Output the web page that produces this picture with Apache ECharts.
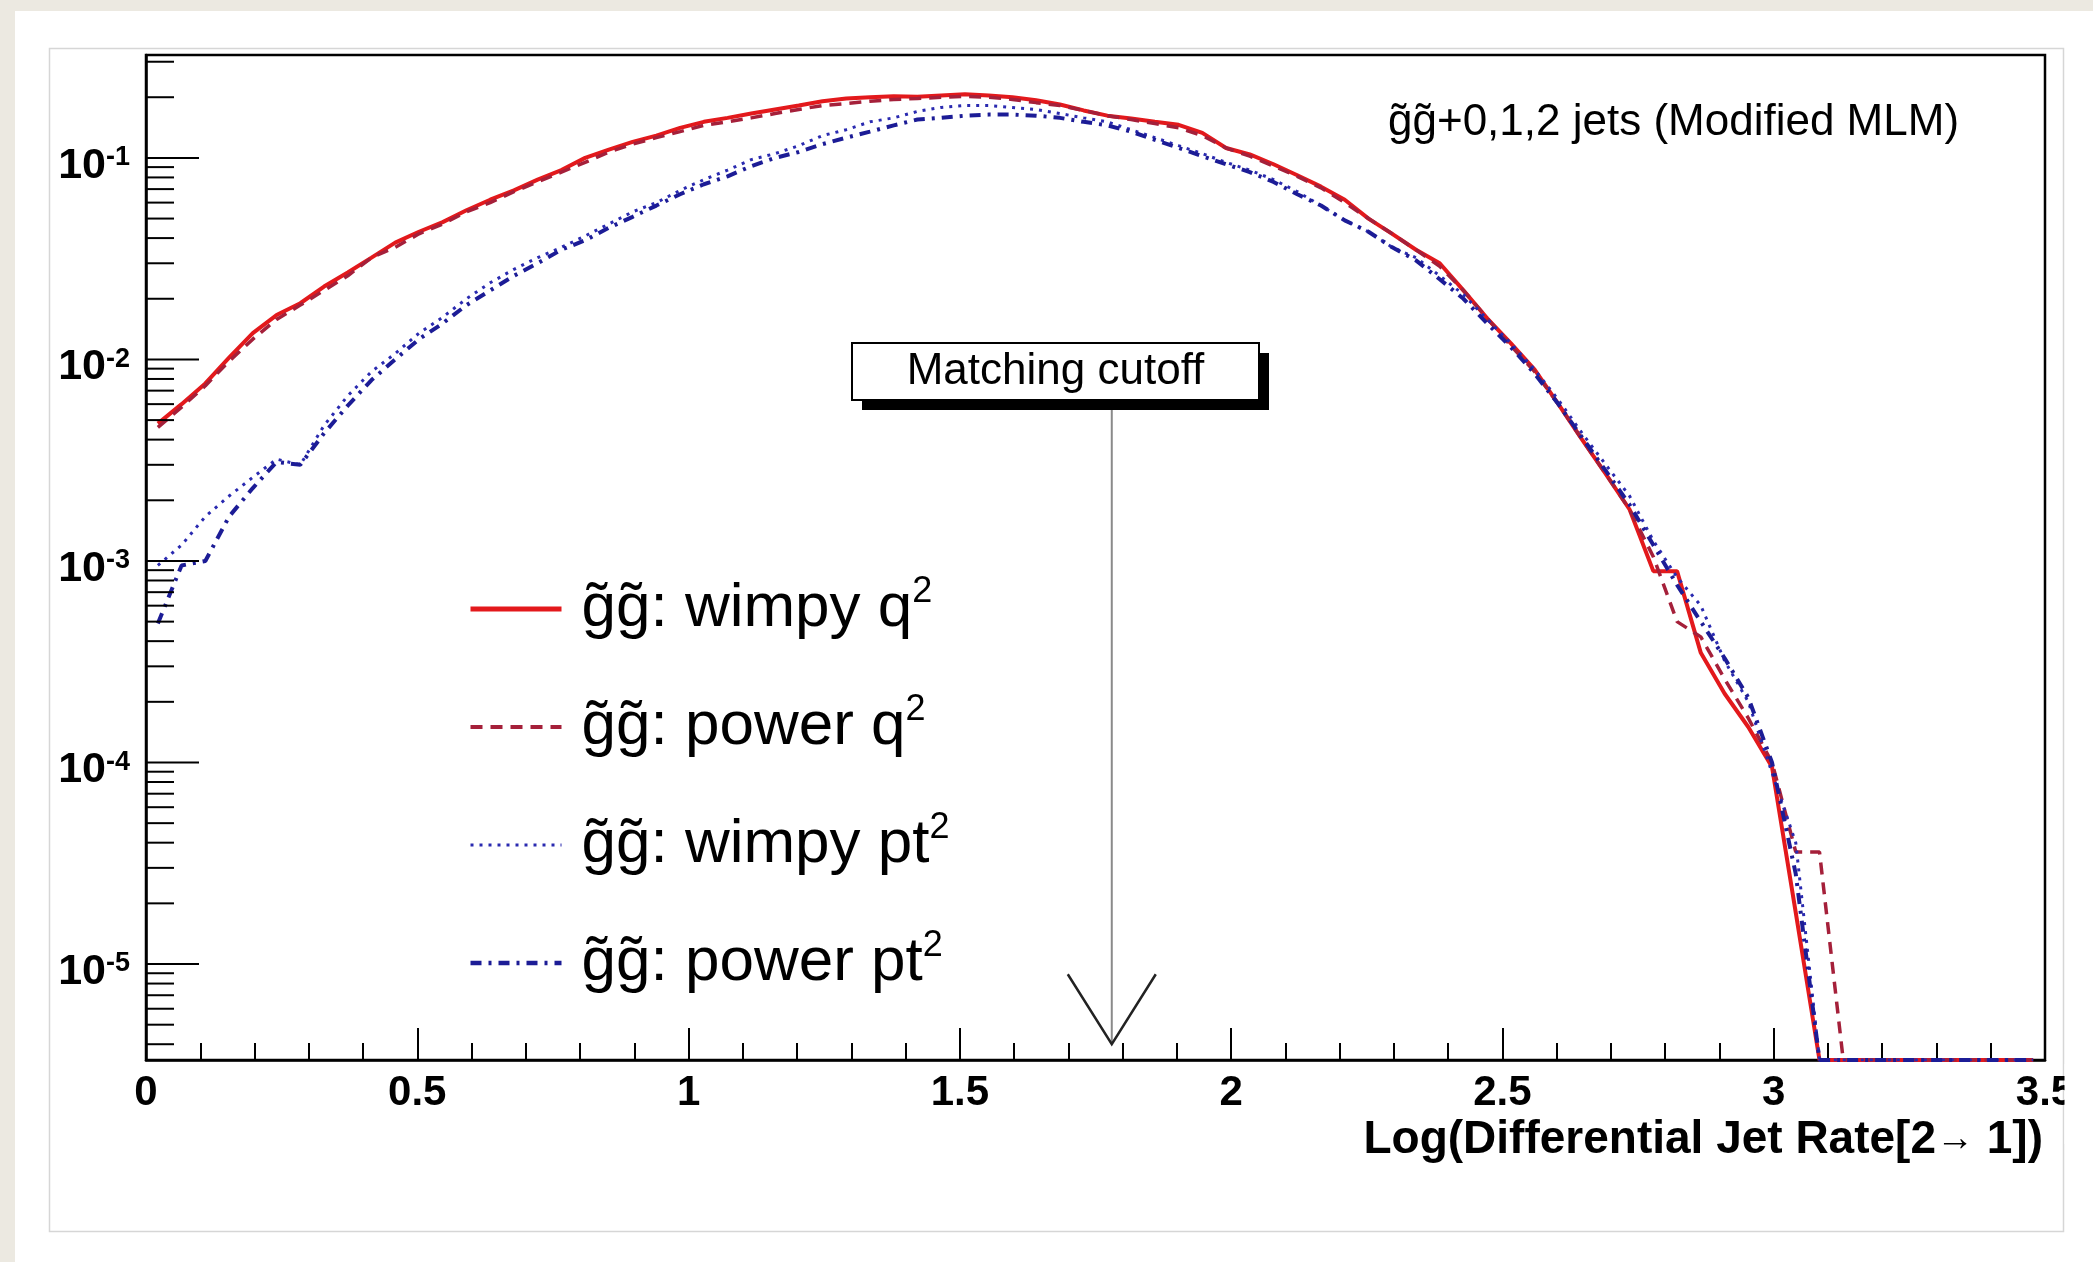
<!DOCTYPE html>
<html>
<head>
<meta charset="utf-8">
<script src="https://cdn.jsdelivr.net/npm/echarts@6/dist/echarts.min.js"></script>
<style>
  html, body { margin: 0; padding: 0; background: #ffffff; }
  #chart { width: 2093px; height: 1262px; }
</style>
</head>
<body>
<div id="chart"></div>
<script>
// histogram: 80 bins over [0, 3.5]
const binLow = 0
const binWidth = 0.04375
const nBins = 80

const yMin = 3.34e-6
const yMax = 0.324

// bin contents (0 = empty bin, drawn on the frame bottom)
const wimpyQ2 = [
  4.8e-3, 6.0e-3, 7.6e-3, 1.02e-2, 1.35e-2, 1.66e-2, 1.9e-2, 2.3e-2, 2.7e-2, 3.2e-2,
  3.8e-2, 4.3e-2, 4.8e-2, 5.5e-2, 6.2e-2, 6.9e-2, 7.8e-2, 8.7e-2, 0.100, 0.110,
  0.120, 0.129, 0.141, 0.151, 0.158, 0.166, 0.174, 0.182, 0.191, 0.197,
  0.200, 0.202, 0.201, 0.204, 0.207, 0.204, 0.200, 0.193, 0.184, 0.172,
  0.162, 0.157, 0.151, 0.146, 0.133, 0.112, 0.104, 9.3e-2, 8.2e-2, 7.2e-2,
  6.2e-2, 5.0e-2, 4.2e-2, 3.5e-2, 3.0e-2, 2.2e-2, 1.6e-2, 1.2e-2, 8.9e-3, 6.0e-3,
  4.0e-3, 2.7e-3, 1.8e-3, 8.9e-4, 8.9e-4, 3.5e-4, 2.2e-4, 1.5e-4, 9.5e-5, 1.8e-5,
  0, 0, 0, 0, 0, 0, 0, 0, 0, 0,
]

const powerQ2 = [
  4.6e-3, 5.8e-3, 7.4e-3, 9.8e-3, 1.26e-2, 1.58e-2, 1.86e-2, 2.2e-2, 2.6e-2, 3.2e-2,
  3.6e-2, 4.2e-2, 4.7e-2, 5.4e-2, 6.0e-2, 6.8e-2, 7.6e-2, 8.5e-2, 9.5e-2, 0.107,
  0.117, 0.126, 0.135, 0.145, 0.151, 0.158, 0.166, 0.174, 0.182, 0.186,
  0.191, 0.195, 0.197, 0.200, 0.202, 0.200, 0.195, 0.188, 0.182, 0.172,
  0.162, 0.155, 0.148, 0.141, 0.129, 0.112, 0.102, 9.1e-2, 8.1e-2, 7.1e-2,
  6.0e-2, 5.0e-2, 4.2e-2, 3.5e-2, 2.9e-2, 2.2e-2, 1.6e-2, 1.17e-2, 8.7e-3, 6.0e-3,
  4.0e-3, 2.7e-3, 1.8e-3, 1.05e-3, 5.0e-4, 4.2e-4, 2.6e-4, 1.66e-4, 1.0e-4, 3.6e-5,
  3.6e-5, 0, 0, 0, 0, 0, 0, 0, 0, 0,
]

const wimpyPt2 = [
  9.5e-4, 1.2e-3, 1.66e-3, 2.1e-3, 2.6e-3, 3.2e-3, 3.0e-3, 4.7e-3, 6.6e-3, 8.7e-3,
  1.07e-2, 1.35e-2, 1.62e-2, 2.0e-2, 2.4e-2, 2.8e-2, 3.2e-2, 3.6e-2, 4.1e-2, 4.7e-2,
  5.4e-2, 6.0e-2, 6.9e-2, 7.8e-2, 8.7e-2, 9.8e-2, 0.105, 0.115, 0.129, 0.138,
  0.151, 0.158, 0.170, 0.178, 0.182, 0.182, 0.178, 0.174, 0.166, 0.158,
  0.151, 0.138, 0.126, 0.115, 0.105, 9.5e-2, 8.7e-2, 7.8e-2, 6.8e-2, 5.8e-2,
  4.9e-2, 4.3e-2, 3.6e-2, 3.2e-2, 2.6e-2, 2.1e-2, 1.58e-2, 1.2e-2, 8.9e-3, 6.3e-3,
  4.3e-3, 3.0e-3, 2.1e-3, 1.26e-3, 8.3e-4, 6.0e-4, 3.2e-4, 2.0e-4, 8.9e-5, 4.0e-5,
  0, 0, 0, 0, 0, 0, 0, 0, 0, 0,
]

const powerPt2 = [
  4.9e-4, 9.5e-4, 1.0e-3, 1.66e-3, 2.3e-3, 3.1e-3, 3.0e-3, 4.3e-3, 5.9e-3, 7.9e-3,
  1.0e-2, 1.26e-2, 1.51e-2, 1.86e-2, 2.2e-2, 2.6e-2, 3.0e-2, 3.5e-2, 3.9e-2, 4.5e-2,
  5.1e-2, 5.8e-2, 6.6e-2, 7.4e-2, 8.1e-2, 9.1e-2, 0.100, 0.107, 0.117, 0.126,
  0.135, 0.145, 0.155, 0.158, 0.162, 0.164, 0.164, 0.162, 0.158, 0.151,
  0.145, 0.135, 0.123, 0.112, 0.102, 9.3e-2, 8.5e-2, 7.6e-2, 6.6e-2, 5.8e-2,
  4.9e-2, 4.3e-2, 3.6e-2, 3.1e-2, 2.5e-2, 2.0e-2, 1.51e-2, 1.15e-2, 8.5e-3, 6.0e-3,
  4.1e-3, 2.8e-3, 1.9e-3, 1.2e-3, 7.6e-4, 5.0e-4, 3.3e-4, 2.1e-4, 1.0e-4, 2.8e-5,
  0, 0, 0, 0, 0, 0, 0, 0, 0, 0,
]

const seriesNames = ['wimpy q2', 'power q2', 'wimpy pt2', 'power pt2']
const legendLabels = ['g\u0303g\u0303: wimpy q', 'g\u0303g\u0303: power q', 'g\u0303g\u0303: wimpy pt', 'g\u0303g\u0303: power pt']

// matching cutoff arrow (x, line top, arrow tip)
const cutoffX = 1.78
const cutoffTop = 5.7e-3
const cutoffTip = 4.0e-6

const FONT = '"Liberation Sans", Arial, Helvetica, sans-serif'

const binCenters = Array.from({ length: nBins }, (_, i) => binLow + (i + 0.5) * binWidth)
const toPoints = (values) => values.map((v, i) => [binCenters[i], v > 0 ? v : yMin])

// y ticks: long at decades, short at 2..9
const yTickMarks = []
for (let k = -6; k <= 0; k++) {
  for (let m = 1; m <= 9; m++) {
    const v = m * Math.pow(10, k)
    if (v < yMin || v > yMax) continue
    yTickMarks.push([0, v, m === 1 ? 53 : 28])
  }
}

const styles = [
  { color: '#e3191c', width: 4, type: 'solid', legendWidth: 5 },
  { color: '#a5203a', width: 3.5, type: [12, 8], legendWidth: 4 },
  { color: '#2a2ab0', width: 3, type: [3, 6], legendWidth: 3 },
  { color: '#1c1c96', width: 4, type: [11, 7, 3, 7], legendWidth: 4.5 },
]

const chart = echarts.init(document.getElementById('chart'), null, { renderer: 'canvas' })

const lineSeries = (i, values) => ({
  name: seriesNames[i],
  type: 'line',
  data: toPoints(values),
  symbol: 'none',
  smooth: false,
  lineStyle: { color: styles[i].color, width: styles[i].width, type: styles[i].type },
  itemStyle: { color: styles[i].color },
  z: 3,
})

chart.setOption({
  animation: false,
  backgroundColor: '#ffffff',
  grid: {
    left: 146,
    right: 48,
    top: 55,
    bottom: 202,
    show: true,
    borderColor: '#000',
    borderWidth: 2.5,
    backgroundColor: 'transparent',
  },
  legend: {
    orient: 'vertical',
    left: 463,
    top: 569,
    itemWidth: 91,
    itemHeight: 14,
    itemGap: 48,
    itemStyle: { opacity: 0 },
    data: seriesNames.map((name, i) => ({
      name,
      itemStyle: { opacity: 0 },
      lineStyle: { width: styles[i].legendWidth },
    })),
    formatter(name) {
      return legendLabels[seriesNames.indexOf(name)] + '{sup|2}'
    },
    textStyle: {
      fontFamily: FONT,
      fontSize: 62,
      color: '#000',
      lineHeight: 70,
      padding: [0, 0, 0, 15],
      rich: {
        sup: { fontFamily: FONT, fontSize: 36, lineHeight: 36, verticalAlign: 'top', color: '#000' },
      },
    },
  },
  xAxis: {
    type: 'value',
    min: 0,
    max: 3.5,
    interval: 0.5,
    axisLine: { lineStyle: { color: '#000', width: 2.5 } },
    axisTick: { inside: true, length: 32, lineStyle: { color: '#000', width: 2 } },
    minorTick: { show: true, splitNumber: 5, length: 17, lineStyle: { color: '#000', width: 2 } },
    splitLine: { show: false },
    axisLabel: {
      color: '#000',
      fontFamily: FONT,
      fontWeight: 'bold',
      fontSize: 42,
      margin: 12,
    },
  },
  yAxis: {
    type: 'log',
    logBase: 10,
    min: yMin,
    max: yMax,
    axisLine: { lineStyle: { color: '#000', width: 2.5 } },
    axisTick: { show: false },
    splitLine: { show: false },
    axisLabel: {
      margin: 16,
      padding: [16, 0, 0, 0],
      formatter(value) {
        const e = Math.log10(value)
        const r = Math.round(e)
        if (Math.abs(e - r) > 1e-6) return ''
        return '{b|10}{s|' + r + '}'
      },
      rich: {
        b: { fontFamily: FONT, fontWeight: 'bold', fontSize: 43, lineHeight: 43, color: '#000' },
        s: { fontFamily: FONT, fontWeight: 'bold', fontSize: 27, lineHeight: 27, verticalAlign: 'top', color: '#000' },
      },
    },
  },
  graphic: [
    { type: 'rect', z: -10, shape: { x: 0, y: 0, width: 2093, height: 11 }, style: { fill: '#ece9e1' } },
    { type: 'rect', z: -10, shape: { x: 0, y: 0, width: 15, height: 1262 }, style: { fill: '#ece9e1' } },
    { type: 'rect', z: -9, shape: { x: 49.5, y: 48.5, width: 2014, height: 1183 }, style: { fill: 'none', stroke: '#d6d6d6', lineWidth: 1.5 } },
    // canvas edge clips the last x label
    { type: 'rect', z: 100, shape: { x: 2064.5, y: 1064, width: 29, height: 80 }, style: { fill: '#ffffff' } },
    {
      type: 'text',
      z: 50,
      x: 1388,
      y: 123,
      style: {
        text: 'g\u0303g\u0303+0,1,2 jets (Modified MLM)',
        font: '44px ' + FONT,
        fill: '#000',
        verticalAlign: 'middle',
      },
    },
    { type: 'rect', z: 50, shape: { x: 862, y: 353, width: 407, height: 57 }, style: { fill: '#000' } },
    { type: 'rect', z: 51, shape: { x: 852, y: 343, width: 407, height: 57 }, style: { fill: '#fff', stroke: '#000', lineWidth: 2 } },
    {
      type: 'text',
      z: 52,
      x: 1055.5,
      y: 372,
      style: {
        text: 'Matching cutoff',
        font: '44px ' + FONT,
        fill: '#000',
        align: 'center',
        verticalAlign: 'middle',
      },
    },
    {
      type: 'text',
      z: 50,
      x: 2043,
      y: 1140,
      style: {
        text: '{a|Log(Differential Jet Rate[2}{r|\u2192}{a| 1])}',
        align: 'right',
        verticalAlign: 'middle',
        fill: '#000',
        rich: {
          a: { fontFamily: FONT, fontWeight: 'bold', fontSize: 46, fill: '#000' },
          r: { fontFamily: FONT, fontWeight: 'normal', fontSize: 38, fill: '#000' },
        },
      },
    },
  ],
  series: [
    lineSeries(0, wimpyQ2),
    lineSeries(1, powerQ2),
    lineSeries(2, wimpyPt2),
    lineSeries(3, powerPt2),
    {
      name: 'yticks',
      type: 'custom',
      coordinateSystem: 'cartesian2d',
      silent: true,
      clip: false,
      z: 6,
      data: yTickMarks,
      renderItem(params, api) {
        const p = api.coord([api.value(0), api.value(1)])
        return {
          type: 'line',
          shape: { x1: p[0], y1: p[1], x2: p[0] + api.value(2), y2: p[1] },
          style: { stroke: '#000', lineWidth: 2 },
        }
      },
    },
    {
      name: 'cutoff',
      type: 'custom',
      coordinateSystem: 'cartesian2d',
      silent: true,
      clip: false,
      z: 7,
      data: [[cutoffX, cutoffTop, cutoffTip]],
      renderItem(params, api) {
        const top = api.coord([api.value(0), api.value(1)])
        const tip = api.coord([api.value(0), api.value(2)])
        return {
          type: 'group',
          children: [
            {
              type: 'line',
              shape: { x1: top[0], y1: top[1], x2: tip[0], y2: tip[1] },
              style: { stroke: '#8a8a8a', lineWidth: 2 },
            },
            {
              type: 'polyline',
              shape: { points: [[tip[0] - 44, tip[1] - 70], [tip[0], tip[1]], [tip[0] + 44, tip[1] - 70]] },
              style: { stroke: '#222', lineWidth: 2.5, fill: null },
            },
          ],
        }
      },
    },
  ],
})

window.addEventListener('resize', () => chart.resize())
</script>
</body>
</html>
